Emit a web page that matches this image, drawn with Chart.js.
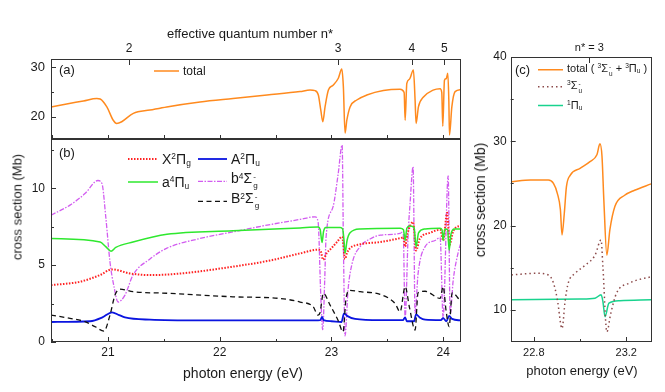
<!DOCTYPE html>
<html>
<head>
<meta charset="utf-8">
<script src="https://cdn.jsdelivr.net/npm/chart.js@4.4.1/dist/chart.umd.min.js"></script>
<style>
body{margin:0;background:#fff;width:665px;height:392px;overflow:hidden;position:relative;font-family:Arial,"Liberation Sans",sans-serif;color:#1a1a1a}
canvas{position:absolute;left:0;top:0}
.t{position:absolute;white-space:nowrap;line-height:1}
.c{transform:translate(-50%,-50%)}
.rot{transform:translate(-50%,-50%) rotate(-90deg)}
.lg{position:absolute;display:flex;align-items:center;white-space:nowrap;transform:translateY(-50%);line-height:1}
.lg svg{margin-right:4px}
sup{font-size:60%;vertical-align:0.55em;line-height:0}
sub{font-size:60%;vertical-align:-0.25em;line-height:0}
.ss{display:inline-flex;flex-direction:column;font-size:58%;line-height:1.05;vertical-align:0.45em;margin-left:1px}
</style>
</head>
<body>
<canvas id="pa" width="665" height="392"></canvas>
<canvas id="pb" width="665" height="392"></canvas>
<canvas id="pc" width="665" height="392"></canvas>

<!-- panel (a) texts -->
<div class="t c" style="left:250px;top:33px;font-size:13px">effective quantum number n*</div>
<div class="t" style="left:59px;top:63px;font-size:13px">(a)</div>
<div class="lg" style="left:154px;top:71px;font-size:12px"><svg width="25" height="6"><line x1="0" y1="3" x2="25" y2="3" stroke="#ff8a1e" stroke-width="1.5"/></svg><span>total</span></div>

<!-- panel (b) texts -->
<div class="t" style="left:59px;top:146px;font-size:13px">(b)</div>
<div class="lg" style="left:128px;top:159px;font-size:14px"><svg width="30" height="6"><line x1="0" y1="3" x2="30" y2="3" stroke="#ff2222" stroke-width="2" stroke-dasharray="1.5 1.5"/></svg><span>X<sup>2</sup>Π<sub>g</sub></span></div>
<div class="lg" style="left:198px;top:159px;font-size:14px"><svg width="29" height="6"><line x1="0" y1="3" x2="29" y2="3" stroke="#0a14e0" stroke-width="1.8"/></svg><span>A<sup>2</sup>Π<sub>u</sub></span></div>
<div class="lg" style="left:128px;top:182px;font-size:14px"><svg width="30" height="6"><line x1="0" y1="3" x2="30" y2="3" stroke="#2ee82e" stroke-width="1.5"/></svg><span>a<sup>4</sup>Π<sub>u</sub></span></div>
<div class="lg" style="left:198px;top:181px;font-size:14px"><svg width="29" height="6"><line x1="0" y1="3" x2="29" y2="3" stroke="#d25cf0" stroke-width="1.3" stroke-dasharray="5 1.5 1.5 1.5"/></svg><span>b<sup>4</sup>Σ<span class="ss"><span>-</span><span>g</span></span></span></div>
<div class="lg" style="left:198px;top:201px;font-size:14px"><svg width="29" height="6"><line x1="0" y1="3" x2="29" y2="3" stroke="#111" stroke-width="1.3" stroke-dasharray="5 3.5"/></svg><span>B<sup>2</sup>Σ<span class="ss"><span>-</span><span>g</span></span></span></div>
<div class="t rot" style="left:17px;top:207px;font-size:13px">cross section (Mb)</div>
<div class="t c" style="left:243px;top:373px;font-size:14px">photon energy (eV)</div>

<!-- panel (c) texts -->
<div class="t" style="left:515px;top:63px;font-size:13px">(c)</div>
<div class="lg" style="left:538px;top:70px;font-size:11px"><svg width="25" height="6"><line x1="0" y1="3" x2="25" y2="3" stroke="#ff8a1e" stroke-width="1.5"/></svg><span>total ( <sup>3</sup>Σ<span class="ss"><span>-</span><span>u</span></span> + <sup>3</sup>Π<sub>u</sub> )</span></div>
<div class="lg" style="left:538px;top:87px;font-size:11px"><svg width="25" height="6"><line x1="0" y1="3" x2="25" y2="3" stroke="#8c4a4a" stroke-width="1.5" stroke-dasharray="1.5 3"/></svg><span><sup>3</sup>Σ<span class="ss"><span>-</span><span>u</span></span></span></div>
<div class="lg" style="left:538px;top:105px;font-size:11px"><svg width="25" height="6"><line x1="0" y1="3" x2="25" y2="3" stroke="#19d38e" stroke-width="1.5"/></svg><span><sup>1</sup>Π<sub>u</sub></span></div>
<div class="t rot" style="left:480px;top:200px;font-size:14px">cross section (Mb)</div>
<div class="t c" style="left:582px;top:370px;font-size:13px">photon energy (eV)</div>

<script>
// ---- data (photon energy in eV, cross sections in Mb) ----
var totalE = [20.49,20.63,20.78,20.90,20.93,20.99,21.047,21.078,21.123,21.227,21.376,21.526,21.824,22.119,22.424,22.719,22.809,22.854,22.883,22.905,22.923,22.943,22.973,23.015,23.062,23.093,23.107,23.122,23.138,23.167,23.227,23.317,23.465,23.615,23.651,23.660,23.675,23.698,23.734,23.749,23.758,23.779,23.824,23.910,23.973,23.988,23.997,24.012,24.027,24.042,24.051,24.057,24.078,24.107,24.161];
var totalV = [22.0,22.6,23.2,23.7,23.6,22.0,19.3,18.65,19.0,20.7,21.35,22.0,23.0,23.7,24.4,25.1,25.4,25.3,24.4,21.35,19.0,22.0,25.4,26.4,27.8,29.65,26.1,16.7,19.3,22.0,23.4,24.4,25.3,25.55,24.9,19.3,26.75,27.6,29.45,23.4,18.65,22.0,24.0,25.4,25.7,24.9,18.1,27.4,27.7,28.8,23.4,16.3,22.0,25.1,25.5];

var xE = [20.49,20.749,20.928,21.036,21.197,21.376,21.645,22.119,22.451,22.719,22.881,22.905,22.925,22.96,23.0,23.05,23.096,23.122,23.14,23.167,23.257,23.436,23.615,23.645,23.66,23.68,23.731,23.758,23.79,23.884,23.973,24.0,24.036,24.057,24.09,24.161];
var xV = [3.7,3.92,4.35,4.72,4.46,4.35,4.45,4.9,5.3,5.76,6.0,5.9,5.35,5.8,6.1,6.5,6.85,5.4,5.8,6.1,6.35,6.5,6.75,6.8,6.2,7.0,7.8,5.95,6.7,7.1,7.3,6.6,8.4,6.3,7.2,7.6];

var aE = [20.49,20.84,20.95,21.036,21.10,21.152,21.376,21.824,22.80,22.90,22.916,22.93,23.0,23.09,23.113,23.14,23.212,23.436,23.64,23.66,23.675,23.74,23.758,23.79,23.839,23.98,24.0,24.03,24.054,24.08,24.161];
var aV = [1.3,1.35,1.6,1.93,1.75,1.6,1.45,1.4,1.4,1.42,1.64,1.42,1.35,1.3,1.86,1.7,1.5,1.42,1.42,1.6,1.35,1.35,1.8,1.6,1.45,1.42,1.55,1.35,1.7,1.5,1.4];

var a4E = [20.49,20.93,20.98,21.027,21.07,21.224,21.528,22.119,22.719,22.881,22.90,22.916,22.93,22.95,23.078,23.10,23.113,23.122,23.14,23.167,23.257,23.615,23.645,23.66,23.675,23.70,23.74,23.758,23.78,23.839,23.973,23.99,24.0,24.015,24.04,24.054,24.07,24.10,24.161];
var a4V = [6.73,6.5,6.2,5.9,6.15,6.5,7.0,7.23,7.42,7.47,7.3,6.47,7.2,7.45,7.45,7.35,6.6,5.76,6.6,7.1,7.35,7.4,7.3,6.6,7.4,7.55,7.45,6.2,7.1,7.35,7.4,7.3,6.6,7.35,7.3,5.97,7.0,7.35,7.35];

var b4E = [20.49,20.66,20.794,20.91,20.946,20.982,21.018,21.054,21.09,21.152,21.224,21.376,21.528,21.824,22.119,22.424,22.719,22.854,22.881,22.905,22.922,22.94,22.952,23.015,23.06,23.096,23.108,23.122,23.149,23.185,23.257,23.346,23.436,23.615,23.642,23.66,23.687,23.704,23.731,23.749,23.776,23.839,23.928,23.973,24.0,24.045,24.063,24.09,24.134,24.161];
var b4V = [8.25,8.9,9.65,10.5,10.3,8.0,5.2,3.6,2.6,3.05,4.35,5.4,6.1,6.73,7.16,7.6,7.97,8.14,7.8,3.0,0.8,4.0,6.8,8.8,10.9,12.8,6.0,0.4,3.4,5.1,6.2,6.7,6.95,7.06,7.2,1.6,7.0,9.0,11.4,1.9,4.46,6.2,6.6,6.8,1.6,10.8,1.8,4.0,5.8,6.5];

var bE = [20.49,20.66,20.794,20.884,20.964,21.018,21.063,21.107,21.224,21.528,22.119,22.54,22.719,22.836,22.881,22.898,22.928,22.988,23.06,23.104,23.131,23.167,23.257,23.436,23.57,23.615,23.66,23.70,23.749,23.776,23.839,23.973,24.0,24.027,24.054,24.081,24.161];
var bV = [1.75,1.54,1.32,1.0,0.71,1.75,3.05,3.44,3.27,3.17,2.94,2.83,2.6,2.3,1.75,1.9,3.16,2.4,1.4,0.67,2.84,3.36,3.27,3.1,2.5,1.97,3.6,2.2,0.78,3.2,3.3,2.84,3.6,2.0,1.0,3.2,2.6];

// panel (c): n* = 3 region
var cTotE = [22.703,22.786,22.863,22.885,22.902,22.915,22.922,22.932,22.941,22.958,23.0,23.043,23.073,23.086,23.095,23.103,23.116,23.129,23.151,23.193,23.236,23.308];
var cTotV = [25.2,25.4,25.4,25.0,23.8,21.9,18.9,21.5,24.6,26.0,26.8,27.6,28.4,29.7,28.2,23.0,16.5,19.5,22.3,23.6,24.2,24.95];
var cSigE = [22.703,22.807,22.863,22.885,22.902,22.922,22.936,22.949,22.979,23.022,23.065,23.091,23.099,23.116,23.133,23.158,23.215,23.308];
var cSigV = [14.15,14.35,14.15,13.2,11.2,7.8,11.2,13.2,14.35,15.3,16.5,18.3,15.1,7.4,9.6,12.0,13.2,13.95];
var cPiE = [22.703,23.0,23.065,23.091,23.099,23.108,23.125,23.172,23.308];
var cPiV = [11.2,11.3,11.4,11.8,11.0,9.2,10.8,11.1,11.2];

// effective quantum number axis
var nStarLabels = ['2','3','4','5'];
var nStarE = [21.19,23.06,23.72,24.01];
var cNStarLabel = 'n* = 3';
var cNStarE = 23.04;

// ---- helpers ----
Chart.defaults.font.family = 'Arial, "Liberation Sans", sans-serif';
Chart.defaults.font.size = 12;
Chart.defaults.color = '#1a1a1a';

function pts(xs, ys){ return xs.map(function(x,i){ return {x:x, y:ys[i]}; }); }
function line(data, color, width, dash){
  return {data:data, borderColor:color, borderWidth:width, borderDash:dash||[], pointRadius:0,
          fill:false, cubicInterpolationMode:'monotone'};
}
function fixedTicks(vals){ return function(s){ s.ticks = vals.map(function(v){ return {value:v}; }); }; }

// frame + inward tick marks
var frameTicks = {
  id:'frameTicks',
  afterDatasetsDraw: function(chart, args, opts){
    var ctx = chart.ctx, a = chart.chartArea;
    ctx.save();
    ctx.strokeStyle = '#333'; ctx.lineWidth = 1;
    ctx.strokeRect(Math.round(a.left)+0.5, Math.round(a.top)+0.5, Math.round(a.right-a.left)-1, Math.round(a.bottom-a.top)-1);
    (opts.marks||[]).forEach(function(m){
      var s = chart.scales[m.scale];
      m.values.forEach(function(v){
        var p = Math.round(s.getPixelForValue(v)) + 0.5;
        ctx.beginPath();
        if(m.side==='left'){ ctx.moveTo(a.left,p); ctx.lineTo(a.left+m.len,p); }
        if(m.side==='bottom'){ ctx.moveTo(p,a.bottom); ctx.lineTo(p,a.bottom-m.len); }
        if(m.side==='top'){ ctx.moveTo(p,a.top); ctx.lineTo(p,a.top+m.len); }
        ctx.stroke();
      });
    });
    ctx.restore();
  }
};

var base = {responsive:false, animation:false, events:[],
  plugins:{legend:{display:false}, tooltip:{enabled:false}}};

function opts(extra){ return Object.assign({}, base, extra); }

// ---- panel (a) ----
new Chart(document.getElementById('pa'), {
  type:'line',
  data:{datasets:[ line(pts(totalE,totalV), '#ff8a1e', 1.5) ]},
  options: opts({
    layout:{padding:{left:11, right:204, top:39, bottom:253}},
    plugins:{legend:{display:false}, tooltip:{enabled:false},
      frameTicks:{marks:[
        {scale:'y', side:'left', len:5, values:[20,30]},
        {scale:'y', side:'left', len:3, values:[25]},
        {scale:'x', side:'bottom', len:4, values:[20.5,21,21.5,22,22.5,23,23.5,24]},
        {scale:'x2', side:'top', len:6, values:nStarE}
      ]}},
    scales:{
      x:{type:'linear', display:false, min:20.49, max:24.16},
      x2:{type:'linear', position:'top', min:20.49, max:24.16,
          afterBuildTicks: fixedTicks(nStarE),
          afterFit:function(s){ s.height = 20; },
          grid:{display:false, drawTicks:false}, border:{display:false},
          ticks:{autoSkip:false, maxRotation:0, padding:3, font:{size:12},
                 callback:function(v,i){ return nStarLabels[i]; }}},
      y:{min:15.5, max:31.7, afterBuildTicks: fixedTicks([20,30]),
         afterFit:function(s){ s.width = 40; },
         grid:{display:false, drawTicks:false}, border:{display:false},
         ticks:{padding:6, font:{size:13}}}
    }
  }),
  plugins:[frameTicks]
});

// ---- panel (b) ----
new Chart(document.getElementById('pb'), {
  type:'line',
  data:{datasets:[
    line(pts(bE,bV), '#111111', 1.3, [5,3.5]),
    line(pts(aE,aV), '#0a14e0', 1.8),
    line(pts(a4E,a4V), '#2ee82e', 1.5),
    line(pts(xE,xV), '#ff2222', 2, [1.5,1.5]),
    line(pts(b4E,b4V), '#d25cf0', 1.3, [5,1.5,1.5,1.5])
  ]},
  options: opts({
    layout:{padding:{left:11, right:204, top:139, bottom:30}},
    plugins:{legend:{display:false}, tooltip:{enabled:false},
      frameTicks:{marks:[
        {scale:'y', side:'left', len:5, values:[0,5,10]},
        {scale:'y', side:'left', len:3, values:[2.5,7.5,12.5]},
        {scale:'x', side:'bottom', len:5, values:[21,22,23,24]},
        {scale:'x', side:'bottom', len:3, values:[20.5,21.5,22.5,23.5]}
      ]}},
    scales:{
      x:{type:'linear', min:20.49, max:24.16, afterBuildTicks: fixedTicks([21,22,23,24]),
         afterFit:function(s){ s.height = 20; },
         grid:{display:false, drawTicks:false}, border:{display:false},
         ticks:{autoSkip:false, maxRotation:0, padding:3, font:{size:12}}},
      y:{min:0, max:13.2, afterBuildTicks: fixedTicks([0,5,10]),
         afterFit:function(s){ s.width = 40; },
         grid:{display:false, drawTicks:false}, border:{display:false},
         ticks:{padding:6, font:{size:12}}}
    }
  }),
  plugins:[frameTicks]
});

// ---- panel (c) ----
new Chart(document.getElementById('pc'), {
  type:'line',
  data:{datasets:[
    line(pts(cSigE,cSigV), '#8c4a4a', 1.5, [1.5,3]),
    line(pts(cPiE,cPiV), '#19d38e', 1.5),
    line(pts(cTotE,cTotV), '#ff8a1e', 1.5)
  ]},
  options: opts({
    layout:{padding:{left:480.7, right:13.3, top:42, bottom:30}},
    plugins:{legend:{display:false}, tooltip:{enabled:false},
      frameTicks:{marks:[
        {scale:'y', side:'left', len:5, values:[10,20,30]},
        {scale:'y', side:'left', len:3, values:[15,25,35]},
        {scale:'x', side:'bottom', len:5, values:[22.8,23.2]},
        {scale:'x', side:'bottom', len:3, values:[23.0]},
        {scale:'x2', side:'top', len:6, values:[cNStarE]}
      ]}},
    scales:{
      x:{type:'linear', min:22.70, max:23.31, afterBuildTicks: fixedTicks([22.8,23.2]),
         afterFit:function(s){ s.height = 20; },
         grid:{display:false, drawTicks:false}, border:{display:false},
         ticks:{autoSkip:false, maxRotation:0, padding:4, font:{size:11},
                callback:function(v){ return v.toFixed(1); }}},
      x2:{type:'linear', position:'top', min:22.70, max:23.31,
          afterBuildTicks: fixedTicks([cNStarE]),
          afterFit:function(s){ s.height = 15; },
          grid:{display:false, drawTicks:false}, border:{display:false},
          ticks:{autoSkip:false, maxRotation:0, padding:2, font:{size:11},
                 callback:function(){ return cNStarLabel; }}},
      y:{min:6.2, max:40, afterBuildTicks: fixedTicks([10,20,30,40]),
         afterFit:function(s){ s.width = 30; },
         grid:{display:false, drawTicks:false}, border:{display:false},
         ticks:{padding:4, font:{size:12}}}
    }
  }),
  plugins:[frameTicks]
});
</script>
</body>
</html>
